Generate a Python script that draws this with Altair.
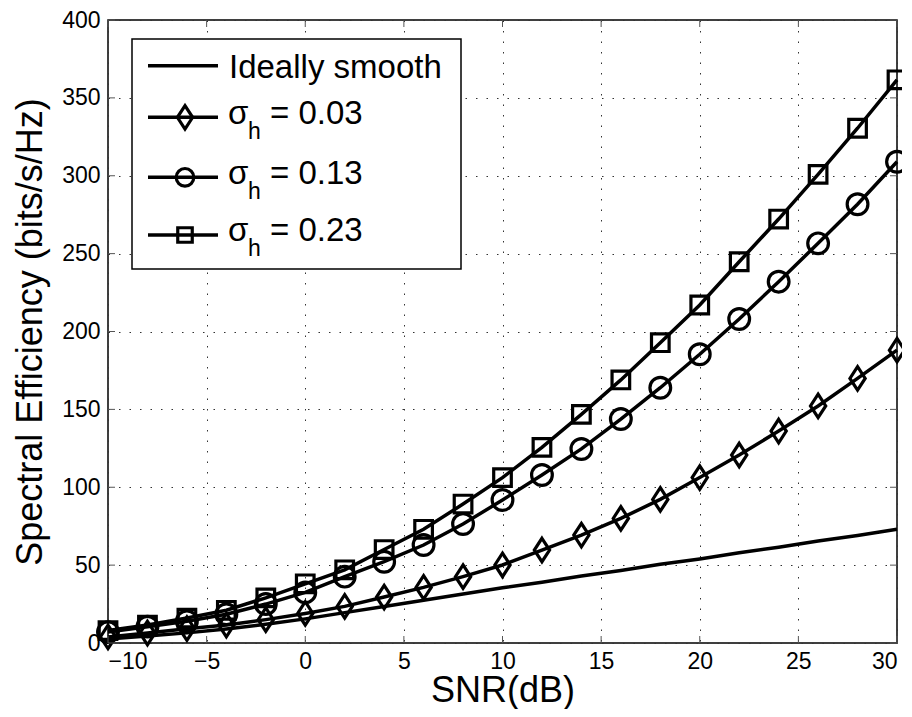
import altair as alt
import pandas as pd

# ---------------- data ----------------
snr = [-10, -8, -6, -4, -2, 0, 2, 4, 6, 8, 10, 12, 14, 16, 18, 20, 22, 24, 26, 28, 30]
ideal = [2.5, 4.5, 6.5, 9.0, 12.0, 15.5, 19.5, 23.5, 27.5, 31.5, 35.5, 39.0, 43.0, 46.5,
         50.5, 54.0, 58.0, 61.5, 65.5, 69.0, 73.0]
sig003 = [3.9, 6.4, 9.2, 11.5, 15.0, 19.0, 23.5, 29.5, 35.7, 42.6, 50.1, 59.7, 69.3, 80.0,
          92.2, 106.2, 120.7, 136.1, 152.2, 169.9, 188.0]
sig013 = [7.0, 10.5, 14.0, 18.5, 25.0, 32.5, 42.6, 52.2, 62.9, 76.4, 91.8, 107.9, 124.6, 143.8,
          163.9, 185.4, 208.0, 232.0, 256.6, 281.7, 309.0]
sig023 = [8.0, 11.5, 16.0, 21.0, 29.0, 38.0, 47.0, 60.0, 73.0, 89.2, 106.2, 125.6, 146.8, 168.9,
          192.8, 217.0, 244.8, 272.2, 300.9, 330.5, 361.6]
series_names = ["Ideally smooth", "σh = 0.03", "σh = 0.13", "σh = 0.23"]
sigma_labels = ["0.03", "0.13", "0.23"]
x_ticks = [-10, -5, 0, 5, 10, 15, 20, 25, 30]
y_ticks = [0, 50, 100, 150, 200, 250, 300, 350, 400]

rows = []
for name, vals in zip(series_names, [ideal, sig003, sig013, sig023]):
    for x, y in zip(snr, vals):
        rows.append({"series": name, "snr": x, "se": y})
df = pd.DataFrame(rows)

FONT = "Liberation Sans"
W, H = 789, 623
DIAMOND = "M0,-1L0.65,0L0,1L-0.65,0Z"
shape_range = [DIAMOND, "circle", "square"]
size_range = [550, 310, 210]
LW = 3.5
MW = 3.2
LEG_FS = 33

xs = alt.Scale(domain=[-10, 30], nice=False, zero=False)
ys = alt.Scale(domain=[0, 400], nice=False)

x_axis = alt.Axis(values=x_ticks, title="SNR(dB)", grid=True,
                  titleBaseline="alphabetic", titleX=W / 2, titleY=58, titleFontSize=36)
y_axis = alt.Axis(values=y_ticks, title="Spectral Efficiency (bits/s/Hz)", grid=True,
                  titleBaseline="alphabetic", titleX=-67, titleY=H / 2, titleFontSize=36)

lines = alt.Chart(df).mark_line(color="black", strokeWidth=LW).encode(
    x=alt.X("snr:Q", scale=xs, axis=x_axis),
    y=alt.Y("se:Q", scale=ys, axis=y_axis),
    detail="series:N",
)

points = alt.Chart(df).transform_filter(
    alt.datum.series != series_names[0]
).mark_point(filled=False, color="black", strokeWidth=MW, opacity=1).encode(
    x=alt.X("snr:Q", scale=xs),
    y=alt.Y("se:Q", scale=ys),
    shape=alt.Shape("series:N", scale=alt.Scale(domain=series_names[1:], range=shape_range), legend=None),
    size=alt.Size("series:N", scale=alt.Scale(domain=series_names[1:], range=size_range), legend=None),
)

tick_df = pd.DataFrame({"v": x_ticks})
ytick_df = pd.DataFrame({"v": y_ticks})
tick_color = "#555555"
bx = alt.Chart(tick_df).mark_rule(color=tick_color, strokeWidth=1).encode(
    x=alt.X("v:Q", scale=xs), y=alt.value(H), y2=alt.value(H - 7))
tx = alt.Chart(tick_df).mark_rule(color=tick_color, strokeWidth=1).encode(
    x=alt.X("v:Q", scale=xs), y=alt.value(0), y2=alt.value(7))
ly = alt.Chart(ytick_df).mark_rule(color=tick_color, strokeWidth=1).encode(
    y=alt.Y("v:Q", scale=ys), x=alt.value(0), x2=alt.value(7))
ry = alt.Chart(ytick_df).mark_rule(color=tick_color, strokeWidth=1).encode(
    y=alt.Y("v:Q", scale=ys), x=alt.value(W), x2=alt.value(W - 7))

one = pd.DataFrame({"k": [0]})
legend_layers = []
legend_layers.append(
    alt.Chart(one).mark_rect(fill="white", stroke="black", strokeWidth=1.5).encode(
        x=alt.value(24), x2=alt.value(353), y=alt.value(19), y2=alt.value(249))
)
row_y = [45.7, 97.3, 157.3, 215.0]
for i, ry_ in enumerate(row_y):
    legend_layers.append(
        alt.Chart(one).mark_rule(color="black", strokeWidth=LW).encode(
            x=alt.value(40), x2=alt.value(110), y=alt.value(ry_))
    )
legend_layers.append(
    alt.Chart(one).mark_text(text=series_names[0], align="left", baseline="alphabetic",
                             fontSize=LEG_FS, font=FONT, color="black").encode(
        x=alt.value(121), y=alt.value(58.3))
)
for j in range(3):
    ry_ = row_y[j + 1]
    legend_layers.append(
        alt.Chart(one).mark_point(filled=False, color="black", strokeWidth=MW, opacity=1,
                                  shape=shape_range[j], size=size_range[j]).encode(
            x=alt.value(77), y=alt.value(ry_))
    )
    base_y = ry_ + 6.3
    legend_layers.append(
        alt.Chart(one).mark_text(text="σ", align="left", baseline="alphabetic",
                                 fontSize=LEG_FS, font=FONT, color="black").encode(
            x=alt.value(120), y=alt.value(base_y))
    )
    legend_layers.append(
        alt.Chart(one).mark_text(text="h", align="left", baseline="alphabetic",
                                 fontSize=23, font=FONT, color="black").encode(
            x=alt.value(140), y=alt.value(base_y + 15))
    )
    legend_layers.append(
        alt.Chart(one).mark_text(text="= " + sigma_labels[j], align="left", baseline="alphabetic",
                                 fontSize=LEG_FS, font=FONT, color="black").encode(
            x=alt.value(162), y=alt.value(base_y))
    )

chart = alt.layer(lines, points, bx, tx, ly, ry, *legend_layers).properties(
    width=W, height=H,
    autosize=alt.AutoSizeParams(type="none"),
    padding={"left": 100, "top": 12, "right": 5, "bottom": 66},
    background="white",
).configure_view(
    stroke="black", strokeWidth=1.5
).configure_axis(
    grid=True, gridColor="#333333", gridDash=[1.5, 9], gridWidth=1, gridOpacity=1,
    domain=False, ticks=False, tickSize=0,
    labelFont=FONT, labelFontSize=23, labelColor="black",
    titleFont=FONT, titleFontWeight="normal", titleColor="black",
).configure_axisX(
    labelPadding=7,
).configure_axisY(
    labelPadding=8,
)

chart.save("out.html", embed_options={"renderer": "svg", "actions": False})
